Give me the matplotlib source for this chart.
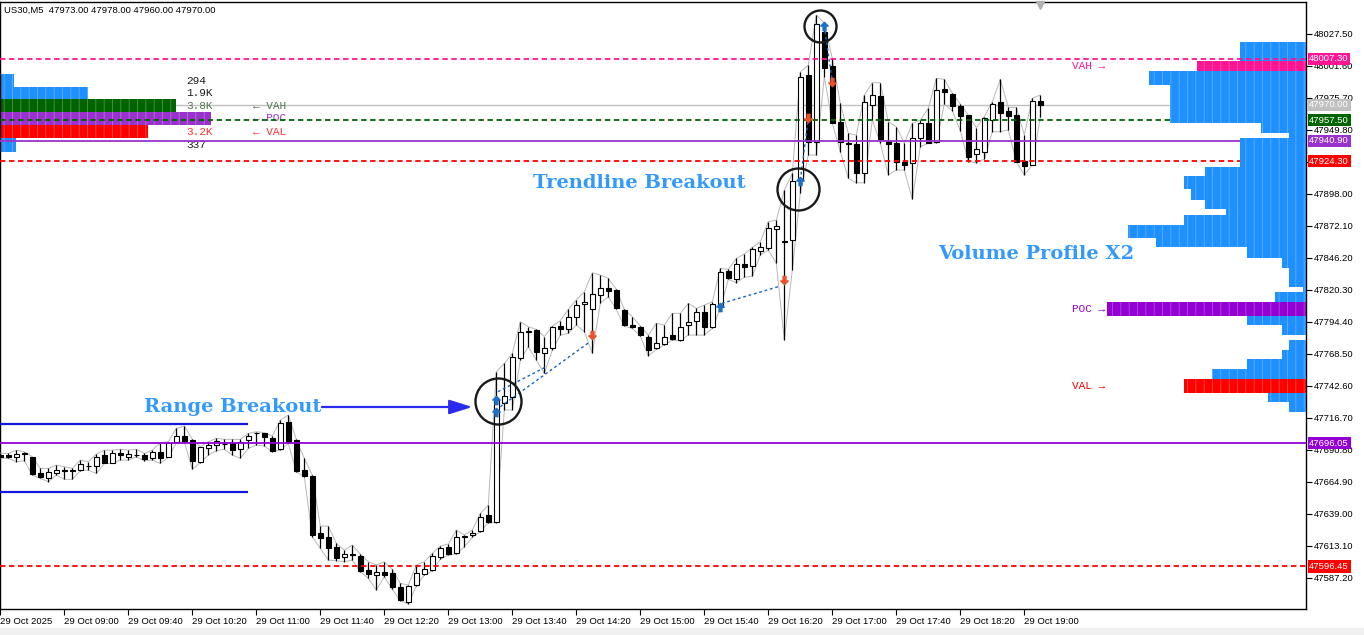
import matplotlib
matplotlib.use("Agg")
import matplotlib.pyplot as plt
from matplotlib.path import Path
import numpy as np

plt.rcParams['font.family'] = ['Liberation Sans', 'DejaVu Sans']
plt.rcParams['hatch.linewidth'] = 0.6

# ---------------- data ----------------
header = "US30,M5  47973.00 47978.00 47960.00 47970.00"

time_labels = ["29 Oct 2025", "29 Oct 09:00", "29 Oct 09:40", "29 Oct 10:20", "29 Oct 11:00",
               "29 Oct 11:40", "29 Oct 12:20", "29 Oct 13:00", "29 Oct 13:40", "29 Oct 14:20",
               "29 Oct 15:00", "29 Oct 15:40", "29 Oct 16:20", "29 Oct 17:00", "29 Oct 17:40",
               "29 Oct 18:20", "29 Oct 19:00"]

opens = [47686.5, 47686.5, 47685.1, 47687.5, 47684.6, 47672.2, 47667.6, 47671.6, 47674.3, 47674.0,
         47674.3, 47677.8, 47677.6, 47686.5, 47680.3, 47688.4, 47685.1, 47686.5, 47686.5, 47683.8,
         47689.2, 47685.1, 47697.3, 47701.9, 47698.6, 47681.1, 47691.9, 47694.6, 47695.4, 47695.9,
         47691.1, 47698.6, 47704.0, 47704.0, 47700.0, 47691.1, 47713.5, 47698.6, 47674.3, 47669.5,
         47623.1, 47619.8, 47612.3, 47603.7, 47606.1, 47604.8, 47593.4, 47589.1, 47591.5, 47591.3,
         47579.4, 47567.8, 47581.3, 47590.2, 47593.4, 47603.7, 47612.3, 47606.9, 47620.4, 47621.8,
         47625.3, 47637.9, 47632.6, 47728.3, 47733.7, 47764.8, 47786.4, 47787.7, 47768.8, 47772.9,
         47790.9, 47788.2, 47797.9, 47808.5, 47804.4, 47816.0, 47821.4, 47820.1, 47803.9, 47791.7,
         47789.9, 47781.8, 47772.9, 47776.4, 47783.6, 47779.6, 47791.7, 47795.2, 47802.5, 47789.9,
         47806.6, 47835.7, 47828.7, 47841.1, 47839.5, 47851.6, 47853.8, 47869.7, 47859.7, 47860.5,
         47909.1, 47994.1, 47940.1, 48029.1, 48001.4, 47956.3, 47938.8, 47938.2, 47915.0, 47969.8,
         47977.1, 47940.9, 47938.8, 47923.9, 47922.6, 47942.9, 47955.0, 47940.1, 47982.5, 47978.7,
         47969.0, 47961.7, 47930.2, 47932.0, 47957.7, 47972.5, 47965.2, 47961.7, 47924.7, 47921.2,
         47973.0]
highs = [47688.0, 47687.8, 47690.5, 47689.2, 47685.1, 47675.7, 47675.7, 47678.4, 47677.0, 47675.7,
         47682.4, 47681.1, 47687.3, 47690.5, 47690.5, 47691.1, 47690.5, 47691.1, 47687.8, 47690.5,
         47696.5, 47697.3, 47708.1, 47710.0, 47699.2, 47693.2, 47697.3, 47700.0, 47699.2, 47699.2,
         47699.2, 47704.0, 47705.4, 47704.6, 47701.9, 47714.8, 47718.9, 47699.2, 47683.8, 47670.3,
         47629.0, 47629.0, 47615.0, 47609.6, 47613.7, 47606.4, 47600.2, 47597.5, 47600.2, 47594.0,
         47582.6, 47581.3, 47597.5, 47600.2, 47606.9, 47612.9, 47614.5, 47625.8, 47621.8, 47625.8,
         47639.3, 47646.0, 47753.9, 47760.7, 47768.8, 47794.4, 47790.4, 47788.2, 47782.3, 47790.9,
         47795.3, 47804.4, 47812.0, 47818.7, 47834.1, 47832.2, 47829.5, 47820.6, 47804.4, 47798.5,
         47790.9, 47783.6, 47793.1, 47791.7, 47801.2, 47801.2, 47809.3, 47805.2, 47807.9, 47810.6,
         47837.6, 47836.8, 47845.7, 47849.2, 47854.6, 47859.2, 47875.4, 47876.7, 47901.0, 47914.5,
         47996.5, 48002.2, 48042.7, 48035.9, 48007.6, 47971.2, 47946.9, 47945.5, 47977.9, 47987.9,
         47987.9, 47956.3, 47952.3, 47938.8, 47955.0, 47957.7, 47967.1, 47991.4, 47990.6, 47979.3,
         47970.6, 47961.7, 47951.4, 47960.3, 47972.5, 47990.6, 47967.9, 47967.9, 47945.5, 47975.2,
         47978.0]
lows = [47684.0, 47683.8, 47681.1, 47681.9, 47670.3, 47667.6, 47664.9, 47670.3, 47666.8, 47666.8,
        47673.8, 47674.3, 47671.6, 47679.7, 47679.7, 47682.4, 47682.4, 47685.1, 47681.9, 47682.4,
        47679.7, 47684.6, 47696.5, 47697.3, 47674.9, 47680.3, 47686.5, 47690.0, 47691.1, 47686.5,
        47683.8, 47691.9, 47694.6, 47693.8, 47689.2, 47690.5, 47695.9, 47673.0, 47668.9, 47620.4,
        47610.9, 47601.5, 47601.0, 47600.2, 47601.5, 47592.1, 47586.7, 47577.3, 47588.0, 47577.8,
        47568.6, 47565.9, 47580.5, 47589.4, 47592.9, 47602.1, 47605.6, 47606.4, 47612.3, 47619.9,
        47624.5, 47631.7, 47631.7, 47723.0, 47723.0, 47763.4, 47774.2, 47763.4, 47752.6, 47771.5,
        47783.6, 47785.0, 47791.7, 47786.4, 47768.8, 47809.3, 47814.7, 47804.4, 47790.9, 47789.0,
        47782.8, 47766.7, 47772.0, 47775.6, 47779.6, 47779.1, 47783.6, 47783.6, 47783.6, 47789.0,
        47805.2, 47828.7, 47826.0, 47830.4, 47831.4, 47848.4, 47852.5, 47841.7, 47779.6, 47836.3,
        47898.6, 47929.3, 47929.3, 47992.7, 47955.0, 47932.0, 47910.5, 47906.9, 47906.9, 47957.7,
        47938.8, 47913.2, 47917.2, 47917.2, 47893.5, 47936.1, 47938.8, 47939.3, 47970.6, 47965.2,
        47949.0, 47923.9, 47923.1, 47925.9, 47948.2, 47948.2, 47949.6, 47923.9, 47913.2, 47921.2,
        47960.0]
closes = [47685.1, 47684.6, 47687.3, 47687.8, 47671.1, 47668.9, 47673.0, 47674.3, 47674.0, 47674.3,
          47678.9, 47678.0, 47684.6, 47680.3, 47687.8, 47686.5, 47687.3, 47686.7, 47683.0, 47689.2,
          47683.8, 47695.9, 47701.9, 47698.1, 47681.9, 47692.7, 47694.6, 47698.1, 47695.6, 47690.5,
          47697.3, 47701.9, 47704.2, 47700.8, 47690.0, 47712.7, 47697.3, 47673.8, 47669.5, 47621.7,
          47619.0, 47610.9, 47602.9, 47606.4, 47606.0, 47592.9, 47589.9, 47591.5, 47589.4, 47579.9,
          47569.1, 47580.5, 47590.7, 47594.0, 47604.8, 47611.0, 47606.4, 47619.9, 47620.7, 47623.6,
          47636.6, 47632.6, 47731.0, 47734.3, 47765.6, 47786.4, 47786.9, 47770.2, 47772.9, 47789.9,
          47788.8, 47797.9, 47807.9, 47810.6, 47816.8, 47821.4, 47819.5, 47805.2, 47791.7, 47789.9,
          47783.6, 47771.5, 47776.9, 47781.8, 47780.1, 47790.4, 47794.4, 47802.5, 47789.9, 47808.7,
          47834.9, 47829.5, 47841.1, 47838.9, 47853.0, 47854.6, 47870.0, 47871.9, 47858.7, 47908.5,
          47992.2, 47940.1, 48035.4, 47999.5, 47955.5, 47940.1, 47938.6, 47915.0, 47972.5, 47977.9,
          47942.0, 47938.2, 47923.9, 47921.2, 47942.9, 47955.0, 47939.3, 47982.0, 47980.6, 47969.0,
          47960.9, 47928.0, 47934.0, 47959.0, 47970.6, 47963.6, 47960.9, 47923.9, 47920.7, 47973.0,
          47970.0]

# horizontal levels
level_prices = [48007.30, 47970.00, 47957.50, 47940.90, 47924.30, 47696.05, 47596.45]
level_colors = ['#FF1493', '#C0C0C0', '#006400', '#9932CC', '#FF0000', '#9400D3', '#FF0000']
level_styles = ['--', '-', '--', '-', '--', '-', '--']

range_high = 47711.3
range_low = 47656.8
range_bars = 31

# small profile (top left)
lp_edges = [47994.9, 47984.1, 47974.4, 47964.4, 47953.6, 47942.9, 47932.0]
lp_vol = [294, 1900, 3800, 4550, 3200, 337]
lp_text = ['294', '1.9K', '3.8K', '4.5K', '3.2K', '337']
lp_tags = ['', '', '\u2190 VAH', '\u2190 POC', '\u2190 VAL', '']
lp_colors = ['#1E90FF', '#1E90FF', '#006400', '#9932CC', '#FF0000', '#1E90FF']
lp_txtcol = ['#202020', '#202020', '#557755', '#9932CC', '#FF3030', '#202020']

# volume profile X2 (right)
vp_edges = [48021.0, 48005.4, 47997.3, 47986.0, 47955.5, 47947.4, 47943.3, 47919.9, 47912.3,
            47901.6, 47892.9, 47885.4, 47880.8, 47872.7, 47861.9, 47854.6, 47846.2, 47837.6,
            47822.7, 47818.2, 47810.6, 47799.0, 47791.7, 47783.6, 47779.6, 47771.5, 47764.2,
            47756.1, 47748.0, 47737.0, 47729.7, 47721.6]
vp_vol = [66, 109, 157, 136, 45, 17, 66, 101, 122, 115, 101, 80, 122, 178, 150, 59, 24, 17, 3,
          31, 199, 59, 24, 0, 17, 24, 59, 94, 122, 38, 17]
vp_vah, vp_poc, vp_val = 1, 20, 28

# breakout signals
up_idx = [62, 62, 90, 100, 103]
up_px = [47731.0, 47721.3, 47806.6, 47908.3, 48033.8]
dn_idx = [74, 98, 101, 104]
dn_px = [47783.6, 47828.1, 47959.0, 47988.7]
trend_x = [(62.2, 68.1), (62.5, 73.7), (90.2, 97.5), (100.0, 101.0), (103.0, 104.0)]
trend_y = [(47737.8, 47757.5), (47725.6, 47778.2), (47809.3, 47823.3), (47909.1, 47959.0),
           (48033.8, 47988.7)]

# ---------------- figure ----------------
fig = plt.figure(figsize=(13.64, 6.35), dpi=100)
ax = fig.add_axes([0.0, 26 / 635, 1306 / 1364, 607 / 635])
xl, xr = -0.04, 163.21
ax.set_xlim(xl, xr)
ax.set_ylim(47561.9, 48053.2)
fig.patches.append(plt.Rectangle((0, 0), 1, 7 / 635, transform=fig.transFigure,
                                 color='#F0F0F0', zorder=0))

idx = np.arange(len(opens))
o, h, l, c = map(np.array, (opens, highs, lows, closes))

# bid line under everything
ax.axhline(level_prices[1], color=level_colors[1], lw=1, zorder=1)

# left mini profile
lp_scale = 46.3 / 8 / 1000
for k in range(len(lp_vol)):
    top, bot = lp_edges[k], lp_edges[k + 1]
    mid = (top + bot) / 2
    ax.text(23.2, mid, lp_text[k], fontsize=8, color=lp_txtcol[k], va='center',
            family=['Liberation Mono', 'DejaVu Sans Mono'], zorder=1.5)
    ax.barh(bot, lp_vol[k] * lp_scale, height=top - bot, left=xl, align='edge',
            color=lp_colors[k], edgecolor=(1, 1, 1, 0.3), linewidth=0, hatch='||', zorder=2)
    if lp_tags[k]:
        ax.text(31.6, mid, lp_tags[k], fontsize=8, color=lp_txtcol[k], va='center',
                family=['Liberation Mono', 'DejaVu Sans Mono'], zorder=2.5)

# range box
ax.hlines([range_high, range_low], xl, range_bars, color='#1515E0', lw=1.6, zorder=6)

# high/low envelope
ax.plot(idx, h, color='#B8B8B8', lw=0.7, zorder=3.5)
ax.plot(idx, l, color='#B8B8B8', lw=0.7, zorder=3.5)

# candles
ax.vlines(idx, l, h, color='black', lw=0.9, zorder=4)
body_lo = np.minimum(o, c)
body_h = np.maximum(np.abs(c - o), 0.01)
ax.bar(idx, body_h, bottom=body_lo, width=0.62,
       color=np.where(c >= o, 'white', 'black'), edgecolor='black', linewidth=0.8, zorder=5)

# level lines
for p, col, ls in zip(level_prices, level_colors, level_styles):
    if col == '#C0C0C0':
        continue
    z = 9 if col == '#FF1493' else 6
    ax.axhline(p, color=col, lw=1.3, ls=(0, (3, 2)) if ls == '--' else '-', zorder=z)

# trend lines and signal arrows
for xs, ys in zip(trend_x, trend_y):
    ax.plot(xs, ys, color='#1565C0', lw=1, ls=(0, (2, 2)), zorder=6.5)

up_arrow = Path([(0, 1), (-0.9, 0.1), (-0.35, 0.1), (-0.35, -1), (0.35, -1), (0.35, 0.1),
                 (0.9, 0.1), (0, 1)], closed=True)
dn_arrow = Path([(0, -1), (-0.9, -0.1), (-0.35, -0.1), (-0.35, 1), (0.35, 1), (0.35, -0.1),
                 (0.9, -0.1), (0, -1)], closed=True)
ax.plot(up_idx, up_px, ls='none', marker=up_arrow, ms=6, color='#1E6FC8', zorder=7)
ax.plot(dn_idx, dn_px, ls='none', marker=dn_arrow, ms=6, color='#E8522A', zorder=7)

# right volume profile
for k in range(len(vp_vol)):
    top, bot = vp_edges[k], vp_edges[k + 1]
    w = vp_vol[k] / 8
    if w <= 0:
        continue
    col = '#1E90FF'
    if k == vp_vah:
        col = '#FF1493'
    elif k == vp_poc:
        col = '#9400D3'
    elif k == vp_val:
        col = '#FF0000'
    ax.barh(bot, w, height=top - bot, left=xr - w, align='edge', color=col,
            edgecolor=(1, 1, 1, 0.3), linewidth=0, hatch='||', zorder=8)

for k, name, col in [(vp_vah, 'VAH \u2192', '#FF1493'), (vp_poc, 'POC \u2192', '#9400D3'),
                     (vp_val, 'VAL \u2192', '#FF0000')]:
    ax.text(134, (vp_edges[k] + vp_edges[k + 1]) / 2, name, fontsize=8, color=col, va='center',
            family=['Liberation Mono', 'DejaVu Sans Mono'], zorder=9)

# circles
for cx, cy, r in [(62.2, 47730.2, 23), (99.75, 47901.6, 21), (102.4, 48033.5, 16)]:
    ax.plot(cx, cy, 'o', ms=2 * r * 0.72, mfc='none', mec='#1A1A1A', mew=1.7, zorder=10)

# annotation texts
ann = dict(fontsize=14, fontweight='bold', color='#3399FF', family='DejaVu Serif',
           va='center', ha='left', zorder=10)
ax.text(66.6, 47906.7, 'Trendline Breakout', **ann)
ax.text(18.0, 47725.4, 'Range Breakout', **ann)
ax.text(117.2, 47849.2, 'Volume Profile X2', **ann)
ax.annotate('', xy=(59.0, 47725.4), xytext=(40.2, 47725.4), zorder=10,
            arrowprops=dict(arrowstyle='-|>,head_length=0.7,head_width=0.22', color='#2B2BEF',
                            lw=1.6, mutation_scale=20, shrinkA=0, shrinkB=0))

# header and shift marker
ax.text(0.003, 0.986, header, transform=ax.transAxes, fontsize=6.8, va='center', ha='left',
        zorder=11)
ax.plot([130], [48050.8], marker='v', ms=6, color='#B0B0B0', clip_on=False, zorder=11)

# axes
ax.set_xticks(np.arange(0, 8 * len(time_labels), 8))
ax.set_xticklabels(time_labels)
for lbl in ax.get_xticklabels():
    lbl.set_ha('left')
yt = np.round(47587.2 + 25.9 * np.arange(18), 2)
ax.set_yticks(yt)
# the 47923.90 label sits fully under the red VAL tag, as in the reference
ax.set_yticklabels(["" if abs(v - 47923.9) < 0.01 else f"{v:.2f}" for v in yt])
ax.yaxis.tick_right()
ax.tick_params(axis='both', direction='out', length=4, width=0.8, labelsize=6.8, pad=1.5,
               colors='black')
for s in ax.spines.values():
    s.set_color('black')
    s.set_linewidth(1)

# price tags on the right scale
for p, col in zip(level_prices, level_colors):
    ax.text(1.0025, p, f"{p:.2f}", transform=ax.get_yaxis_transform(), ha='left', va='center',
            color='white', fontsize=6.8, clip_on=False, zorder=20,
            bbox=dict(boxstyle='square,pad=0.18', fc=col, ec='none'))

fig.savefig('out.png', dpi=100, facecolor='white')
